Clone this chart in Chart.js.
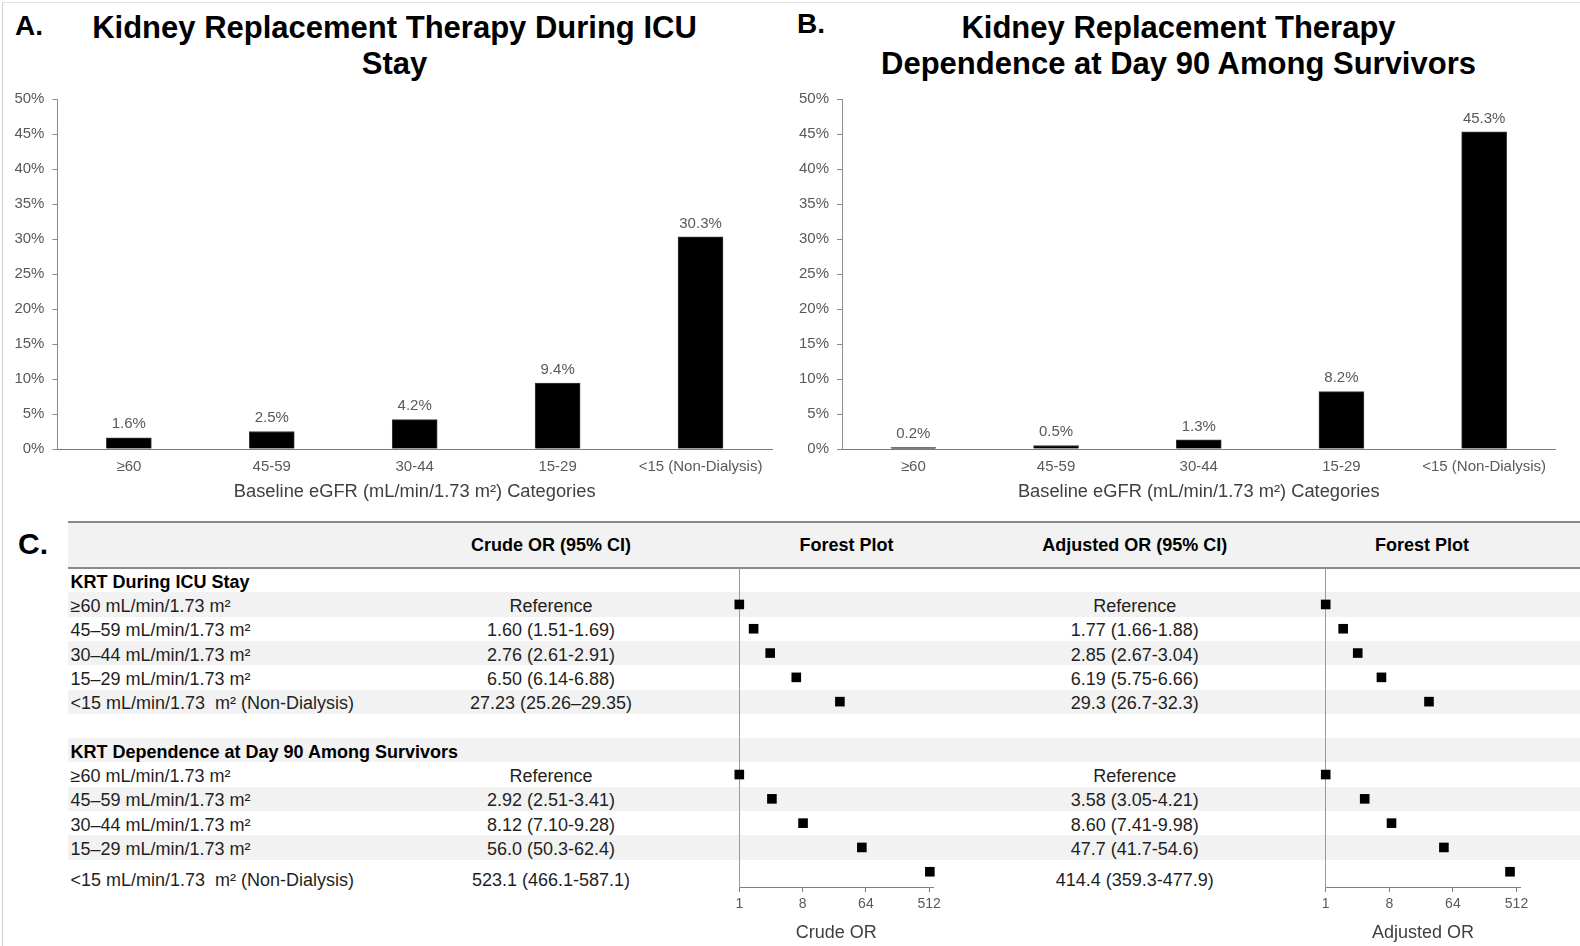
<!DOCTYPE html>
<html>
<head>
<meta charset="utf-8">
<title>Kidney Replacement Therapy by Baseline eGFR</title>
<script src="https://cdn.jsdelivr.net/npm/chart.js@4.4.1/dist/chart.umd.min.js"></script>
<style>
  html, body { margin: 0; padding: 0; background: #fff; }
  body { width: 1580px; height: 946px; overflow: hidden; font-family: "Liberation Sans", Arial, sans-serif; }
  #page { position: relative; width: 1580px; height: 946px; background: #fff; }
  #frame { position: absolute; left: 2px; top: 2px; right: 0; bottom: 0; border-left: 1px solid #cfcfcf; border-top: 1px solid #e2e2e2; }
  canvas { position: absolute; }
  .letter { position: absolute; font-weight: bold; font-size: 28px; line-height: 30px; color: #000; }
  .ptitle { position: absolute; width: 760px; text-align: center; font-weight: bold; font-size: 31px; line-height: 36px; color: #000; white-space: nowrap; }
  .band { position: absolute; left: 68px; right: 0; background: #f2f2f2; }
  .rule { position: absolute; left: 68px; right: 0; background: #8a8a8a; }
  .cell { position: absolute; font-size: 18px; line-height: 20px; height: 20px; white-space: pre; color: #1f1f1f; }
  .center { text-align: center; width: 320px; }
  .bold { font-weight: bold; color: #000; }
</style>
</head>
<body>
<div id="page">
  <div id="frame"></div>

  <div class="letter" style="left:15px; top:11px;">A.</div>
  <div class="letter" style="left:797px; top:9px;">B.</div>
  <div class="letter" style="left:18px; top:529px; font-size:30px;">C.</div>

  <div class="ptitle" style="left:14.5px; top:10px;">Kidney Replacement Therapy During ICU<br>Stay</div>
  <div class="ptitle" style="left:798.5px; top:10px;">Kidney Replacement Therapy<br>Dependence at Day 90 Among Survivors</div>

  <canvas id="chartA" width="792" height="512" style="left:0; top:0;"></canvas>
  <canvas id="chartB" width="788" height="512" style="left:792px; top:0;"></canvas>

  <canvas id="forestCrude" width="260" height="406" style="left:700px; top:540px;"></canvas>
  <canvas id="forestAdj" width="290" height="406" style="left:1290px; top:540px;"></canvas>
</div>

<script>
// ---- Panel A / B: share of patients by baseline eGFR category ----
const egfrCategories = ['\u226560', '45-59', '30-44', '15-29', '<15 (Non-Dialysis)'];
const krtDuringIcuPct = [1.6, 2.5, 4.2, 9.4, 30.3];
const krtDependenceDay90Pct = [0.2, 0.5, 1.3, 8.2, 45.3];
const pctTicks = [0, 5, 10, 15, 20, 25, 30, 35, 40, 45, 50];

// ---- Panel C: odds ratio table ----
const groupTitles = ['KRT During ICU Stay', 'KRT Dependence at Day 90 Among Survivors'];
const egfrRowLabels = [
  '\u226560 mL/min/1.73 m\u00b2',
  '45\u201359 mL/min/1.73 m\u00b2',
  '30\u201344 mL/min/1.73 m\u00b2',
  '15\u201329 mL/min/1.73 m\u00b2',
  '<15 mL/min/1.73  m\u00b2 (Non-Dialysis)'
];
const tableHeaders = ['Crude OR (95% CI)', 'Forest Plot', 'Adjusted OR (95% CI)', 'Forest Plot'];

// odds ratio point estimates (reference category = 1)
const crudeOrIcu = [1, 1.60, 2.76, 6.50, 27.23];
const adjustedOrIcu = [1, 1.77, 2.85, 6.19, 29.3];
const crudeOrDay90 = [1, 2.92, 8.12, 56.0, 523.1];
const adjustedOrDay90 = [1, 3.58, 8.60, 47.7, 414.4];

// printed estimates with 95% confidence intervals
const crudeTextIcu = ['Reference', '1.60 (1.51-1.69)', '2.76 (2.61-2.91)', '6.50 (6.14-6.88)', '27.23 (25.26\u201329.35)'];
const adjustedTextIcu = ['Reference', '1.77 (1.66-1.88)', '2.85 (2.67-3.04)', '6.19 (5.75-6.66)', '29.3 (26.7-32.3)'];
const crudeTextDay90 = ['Reference', '2.92 (2.51-3.41)', '8.12 (7.10-9.28)', '56.0 (50.3-62.4)', '523.1 (466.1-587.1)'];
const adjustedTextDay90 = ['Reference', '3.58 (3.05-4.21)', '8.60 (7.41-9.98)', '47.7 (41.7-54.6)', '414.4 (359.3-477.9)'];

const orAxisTicks = [1, 8, 64, 512];

// ------------------------------------------------------------------
Chart.defaults.font.family = '"Liberation Sans", Arial, sans-serif';
Chart.defaults.color = '#595959';

// percentage printed above every bar
const barValueLabels = {
  id: 'barValueLabels',
  afterDatasetsDraw(chart) {
    const ctx = chart.ctx;
    const ds = chart.data.datasets[0];
    const meta = chart.getDatasetMeta(0);
    ctx.save();
    ctx.fillStyle = '#595959';
    ctx.font = '15px "Liberation Sans", Arial, sans-serif';
    ctx.textAlign = 'center';
    ctx.textBaseline = 'bottom';
    meta.data.forEach((bar, i) => {
      ctx.fillText(ds.data[i].toFixed(1) + '%', bar.x, bar.y - 6);
    });
    ctx.restore();
  }
};

function barPanel(canvasId, values, padRight, yAxisWidth) {
  return new Chart(document.getElementById(canvasId), {
    type: 'bar',
    data: {
      labels: egfrCategories,
      datasets: [{
        data: values,
        backgroundColor: '#000',
        borderColor: '#3a3a3a',
        borderWidth: 1,
        barThickness: 45
      }]
    },
    options: {
      responsive: false,
      animation: false,
      events: [],
      layout: { padding: { left: 0, right: padRight, top: 99, bottom: 0 } },
      plugins: {
        legend: { display: false },
        tooltip: { enabled: false }
      },
      scales: {
        x: {
          grid: { display: false, drawTicks: false },
          border: { display: true, color: '#7a7a7a', width: 1 },
          ticks: { color: '#595959', font: { size: 15 }, padding: 8.6, maxRotation: 0, autoSkip: false },
          title: {
            display: true,
            text: 'Baseline eGFR (mL/min/1.73 m\u00b2) Categories',
            color: '#404040',
            font: { size: 18.3 },
            padding: { top: 0, bottom: 9 }
          },
          afterFit: s => { s.height = 63; }
        },
        y: {
          min: pctTicks[0],
          max: pctTicks[pctTicks.length - 1],
          afterBuildTicks: s => { s.ticks = pctTicks.map(v => ({ value: v })); },
          ticks: { color: '#595959', font: { size: 15 }, padding: 8, callback: v => v + '%' },
          grid: { display: true, drawOnChartArea: false, drawTicks: true, tickLength: 5, color: '#8c8c8c' },
          border: { display: true, color: '#8c8c8c', width: 1 },
          afterFit: s => { s.width = yAxisWidth; }
        }
      }
    },
    plugins: [barValueLabels]
  });
}

barPanel('chartA', krtDuringIcuPct, 20, 57.4);
barPanel('chartB', krtDependenceDay90Pct, 24.5, 50);

// ------------------------------------------------------------------
// Table layout: header band, then 13 rows (two groups of a title row + 5 eGFR rows, blank row between)
const TABLE_TOP = 522, HEADER_BOTTOM = 568, ROW_H = 24.3;
const icuFirstRow = 1, day90FirstRow = 8, rowCount = 13;
const page = document.getElementById('page');
const firstChartCanvas = document.getElementById('forestCrude');

function addDiv(cls, style, text) {
  const d = document.createElement('div');
  d.className = cls;
  Object.assign(d.style, style);
  if (text !== undefined) d.textContent = text;
  page.insertBefore(d, firstChartCanvas);
  return d;
}

// header band and rules
addDiv('band', { top: TABLE_TOP + 'px', height: (HEADER_BOTTOM - TABLE_TOP) + 'px' });
addDiv('rule', { top: (TABLE_TOP - 1) + 'px', height: '2px' });
addDiv('rule', { top: (HEADER_BOTTOM - 1) + 'px', height: '2px' });

// alternating row shading
for (let r = 1; r < rowCount - 1; r += 2) {
  addDiv('band', { top: (HEADER_BOTTOM + r * ROW_H) + 'px', height: ROW_H + 'px' });
}

const headerCenters = [551, 846.5, 1134.7, 1422];
tableHeaders.forEach((h, i) => {
  addDiv('cell center bold', { left: (headerCenters[i] - 160) + 'px', top: (545 - 10) + 'px' }, h);
});

const crudeCenter = 551, adjustedCenter = 1134.7, labelLeft = 70.5;
function rowTextTop(r) {
  const extra = (r === rowCount - 1) ? 8 : 1.5;
  return HEADER_BOTTOM + (r + 0.5) * ROW_H + extra - 10;
}

function addGroup(firstRow, title, crudeText, adjustedText) {
  addDiv('cell bold', { left: labelLeft + 'px', top: rowTextTop(firstRow - 1) + 'px' }, title);
  egfrRowLabels.forEach((lab, i) => {
    const r = firstRow + i;
    const top = rowTextTop(r) + 'px';
    addDiv('cell', { left: labelLeft + 'px', top }, lab);
    addDiv('cell center', { left: (crudeCenter - 160) + 'px', top }, crudeText[i]);
    addDiv('cell center', { left: (adjustedCenter - 160) + 'px', top }, adjustedText[i]);
  });
}
addGroup(icuFirstRow, groupTitles[0], crudeTextIcu, adjustedTextIcu);
addGroup(day90FirstRow, groupTitles[1], crudeTextDay90, adjustedTextDay90);

// ------------------------------------------------------------------
// Forest plots: log2-spaced odds ratio axis, one square per table row
function forestPlot(canvasId, icuValues, day90Values, axisTitle, pad) {
  const points = icuValues.map((v, i) => ({ x: v, y: icuFirstRow + i }))
    .concat(day90Values.map((v, i) => ({ x: v, y: day90FirstRow + i })));
  const plotTop = HEADER_BOTTOM, plotBottom = 887;
  return new Chart(document.getElementById(canvasId), {
    type: 'scatter',
    data: {
      datasets: [{
        data: points,
        pointStyle: 'rect',
        radius: 6.8,
        backgroundColor: '#000',
        borderColor: '#000',
        borderWidth: 0,
        clip: false
      }]
    },
    options: {
      responsive: false,
      animation: false,
      events: [],
      layout: { padding: { left: pad.left, right: pad.right, top: plotTop - 540, bottom: 0 } },
      plugins: { legend: { display: false }, tooltip: { enabled: false } },
      scales: {
        x: {
          type: 'logarithmic',
          min: 1,
          max: 580,
          afterBuildTicks: s => { s.ticks = orAxisTicks.map(v => ({ value: v })); },
          grid: { display: true, drawOnChartArea: false, drawTicks: true, tickLength: 5, color: '#7f7f7f' },
          border: { display: true, color: '#7f7f7f', width: 1 },
          ticks: { color: '#595959', font: { size: 14 }, padding: 3.6, maxRotation: 0, autoSkip: false, callback: v => String(v) },
          title: { display: true, text: axisTitle, color: '#404040', font: { size: 18 }, padding: { top: 0, bottom: 2 } },
          afterFit: s => { s.height = 540 + 406 - plotBottom; }
        },
        y: {
          type: 'linear',
          reverse: true,
          min: -0.5,
          max: (plotBottom - plotTop) / ROW_H - 0.5,
          grid: { display: false, drawTicks: false },
          border: { display: true, color: '#9a9a9a', width: 1, dash: [2, 2] },
          ticks: { display: false },
          afterFit: s => { s.width = 0; }
        }
      }
    }
  });
}

forestPlot('forestCrude', crudeOrIcu, crudeOrDay90, 'Crude OR', { left: 39.3, right: 27 });
forestPlot('forestAdj', adjustedOrIcu, adjustedOrDay90, 'Adjusted OR', { left: 35.7, right: 59.7 });
</script>
</body>
</html>
